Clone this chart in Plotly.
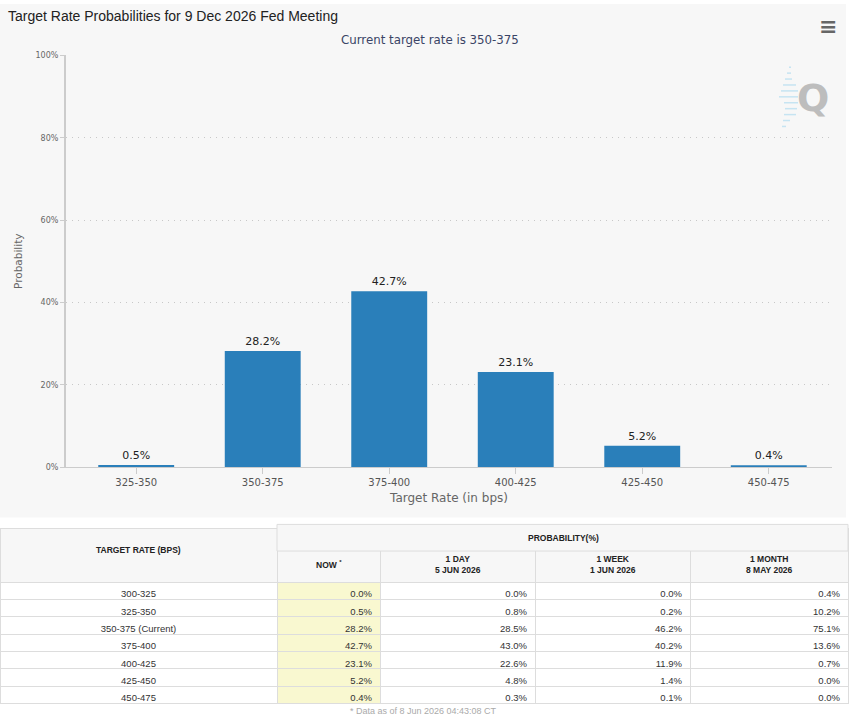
import plotly.graph_objects as go

# chart data
rate_labels = ["325-350", "350-375", "375-400", "400-425", "425-450", "450-475"]
rate_probs = [0.5, 28.2, 42.7, 23.1, 5.2, 0.4]
y_ticks = [0, 20, 40, 60, 80, 100]

# table data
table_rates = ["300-325", "325-350", "350-375 (Current)", "375-400", "400-425", "425-450", "450-475"]
now_vals = [0.0, 0.5, 28.2, 42.7, 23.1, 5.2, 0.4]
day_vals = [0.0, 0.8, 28.5, 43.0, 22.6, 4.8, 0.3]
week_vals = [0.0, 0.2, 46.2, 40.2, 11.9, 1.4, 0.1]
month_vals = [0.4, 10.2, 75.1, 13.6, 0.7, 0.0, 0.0]
sub_headers = ["NOW <sup>*</sup>", "1 DAY<br>5 JUN 2026", "1 WEEK<br>1 JUN 2026", "1 MONTH<br>8 MAY 2026"]

W, H = 855, 719
col_widths = [277, 103, 155, 155, 158]


def px_x(p):
    return p / W


def px_y(p):
    return 1 - p / H


fig = go.Figure()

fig.add_trace(go.Bar(
    x=rate_labels,
    y=rate_probs,
    width=0.6,
    marker=dict(color="#2a7fba", line=dict(width=0)),
    text=[f"{v}%" for v in rate_probs],
    textposition="outside",
    textfont=dict(family="DejaVu Sans", size=11, color="#222"),
    cliponaxis=False,
    hoverinfo="x+y",
    showlegend=False,
))

fmt = lambda vals: [f"{v:.1f}%" for v in vals]
n = len(table_rates)
fig.add_trace(go.Table(
    domain=dict(x=[0, px_x(sum(col_widths))], y=[px_y(716), px_y(531)]),
    columnwidth=col_widths,
    header=dict(
        values=[""] * 5,  # header labels are placed as annotations (merged cells)
        height=54,
        fill_color="#f7f7f7",
        line_color="#dddddd",
    ),
    cells=dict(
        values=[table_rates, fmt(now_vals), fmt(day_vals), fmt(week_vals), fmt(month_vals)],
        align=["center", "right", "right", "right", "right"],
        height=17.3,
        fill_color=[["white"] * n, ["#f9f8d0"] * n, ["white"] * n, ["white"] * n, ["white"] * n],
        line_color="#dddddd",
        font=dict(family="Liberation Sans", size=9.5, color="#333"),
    ),
))

# chart panel background
fig.add_shape(type="rect", xref="paper", yref="paper", x0=0, x1=px_x(846), y0=px_y(520), y1=1,
              fillcolor="#f7f7f7", line=dict(width=0), layer="below")
# merged "PROBABILITY(%)" header band
fig.add_shape(type="rect", xref="paper", yref="paper", x0=px_x(col_widths[0]),
              x1=px_x(sum(col_widths)), y0=px_y(554), y1=px_y(527), fillcolor="#f7f7f7",
              line=dict(color="#dddddd", width=1), layer="above")

# light blue stripes of the logo
for yy, x0, x1 in [(64, 789, 791), (70, 787, 791), (76, 785, 792), (82, 783, 796), (88, 781, 798),
                   (94, 779, 798), (100, 784, 798), (106, 785, 797), (112, 784, 796),
                   (118, 783, 790), (124, 782, 786)]:
    fig.add_shape(type="line", xref="paper", yref="paper", x0=px_x(x0), x1=px_x(x1),
                  y0=px_y(yy), y1=px_y(yy), line=dict(color="#c6e4f2", width=1.5))

ann = dict(xref="paper", yref="paper", showarrow=False, xanchor="center", yanchor="middle")
head_font = dict(family="Liberation Sans", size=8.5, color="#222")
fig.add_annotation(text="<b>TARGET RATE (BPS)</b>", x=px_x(col_widths[0] / 2), y=px_y(553),
                   font=head_font, **ann)
fig.add_annotation(text="<b>PROBABILITY(%)</b>", x=px_x(563), y=px_y(541), font=head_font, **ann)
left = col_widths[0]
for label, cw in zip(sub_headers, col_widths[1:]):
    fig.add_annotation(text=f"<b>{label}</b>", x=px_x(left + cw / 2), y=px_y(568),
                       font=head_font, **ann)
    left += cw

fig.add_annotation(text="* Data as of 8 Jun 2026 04:43:08 CT", x=px_x(423), y=px_y(716),
                   font=dict(family="Liberation Sans", size=9, color="#aaaaaa"), **ann)
fig.add_annotation(text="Current target rate is 350-375", x=px_x(430), y=px_y(36),
                   font=dict(family="DejaVu Sans", size=11.8, color="#3a4466"), **ann)
fig.add_annotation(text="<b>Q</b>", x=px_x(813), y=px_y(95),
                   font=dict(family="DejaVu Sans", size=38, color="#bdbdbd"), **ann)
fig.add_annotation(text="<b>≡</b>", x=px_x(828), y=px_y(23),
                   font=dict(family="DejaVu Sans", size=22, color="#666"), **ann)

fig.update_layout(
    width=W,
    height=H,
    margin=dict(l=0, r=0, t=0, b=0),
    paper_bgcolor="white",
    plot_bgcolor="#f7f7f7",
    bargap=0.4,
    title=dict(text="Target Rate Probabilities for 9 Dec 2026 Fed Meeting",
               x=px_x(8), xanchor="left", y=px_y(16), yanchor="middle",
               font=dict(family="Liberation Sans", size=14, color="#222")),
    xaxis=dict(
        domain=[px_x(66), px_x(832)],
        range=[-0.555, 5.5],
        showline=True, linecolor="#cccccc", linewidth=1,
        ticks="outside", ticklen=6, tickcolor="#cccccc",
        tickfont=dict(family="DejaVu Sans", size=10, color="#555"),
        title=dict(text="Target Rate (in bps)", standoff=6,
                   font=dict(family="DejaVu Sans", size=12, color="#666")),
        showgrid=False,
        fixedrange=True,
    ),
    yaxis=dict(
        domain=[px_y(469), px_y(52)],
        range=[0, 100],
        tickvals=y_ticks,
        ticktext=[f"{v}%" for v in y_ticks],
        showline=True, linecolor="#cccccc", linewidth=2,
        ticks="outside", ticklen=4, tickcolor="#cccccc",
        tickfont=dict(family="DejaVu Sans", size=8, color="#666"),
        showgrid=True, gridcolor="#c8c8c8", griddash="1px,5px", gridwidth=1,
        zeroline=False,
        title=dict(text="Probability", standoff=11,
                   font=dict(family="DejaVu Sans", size=10.5, color="#666")),
        fixedrange=True,
    ),
)

fig.write_html("out.html", config={"displayModeBar": False},
               post_script="document.body.style.margin='0';")
